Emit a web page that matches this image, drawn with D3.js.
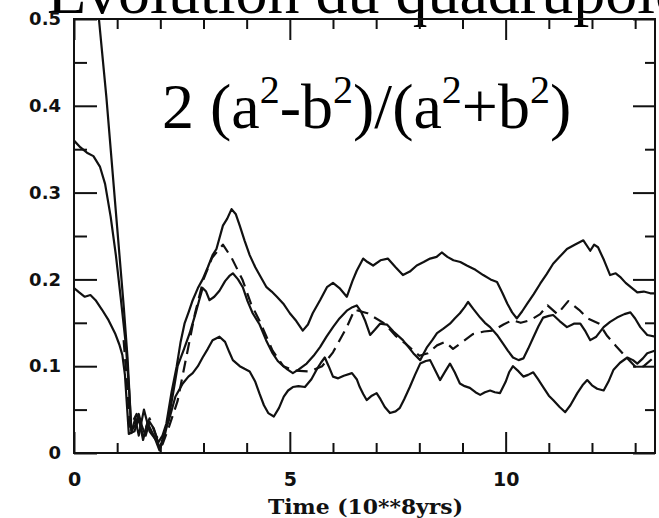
<!DOCTYPE html>
<html>
<head>
<meta charset="utf-8">
<script src="https://cdn.jsdelivr.net/npm/d3@7/dist/d3.min.js"></script>
<style>
  html, body { margin: 0; padding: 0; background: #fff; }
  svg { display: block; }
</style>
</head>
<body>
<svg id="chart" width="659" height="518"></svg>
<script>
// Quadrupole moment 2(a²-b²)/(a²+b²) versus time (units of 10^8 yr)

// Tick values
const xMajorTicks = [0, 5, 10];
const xMinorTicks = [1, 2, 3, 4, 6, 7, 8, 9, 11, 12, 13];
const yMajorTicks = [0, 0.1, 0.2, 0.3, 0.4, 0.5];
const yMinorTicks = [0.05, 0.15, 0.25, 0.35, 0.45];
const yTickLabels = ["0", "0.1", "0.2", "0.3", "0.4", "0.5"];
const xTickLabels = ["0", "5", "10"];

// Run 1: starts far above 0.5, ends as the upper curve
const run1Time = [0.52, 0.75, 1.0, 1.15, 1.24, 1.33, 1.42, 1.5, 1.58, 1.66, 1.75, 1.85, 1.95, 2.05, 2.14, 2.26, 2.38, 2.47, 2.56, 2.66, 2.75, 2.87, 2.98, 3.1, 3.21, 3.3, 3.45, 3.55, 3.65, 3.75, 3.84, 3.95, 4.07, 4.2, 4.3, 4.46, 4.58, 4.7, 4.85, 5.0, 5.15, 5.3, 5.42, 5.53, 5.7, 5.86, 6.0, 6.15, 6.32, 6.45, 6.55, 6.7, 6.8, 6.93, 7.1, 7.27, 7.45, 7.62, 7.78, 7.94, 8.1, 8.25, 8.4, 8.52, 8.65, 8.79, 8.95, 9.1, 9.3, 9.48, 9.65, 9.8, 9.92, 10.04, 10.15, 10.26, 10.38, 10.5, 10.65, 10.8, 10.95, 11.1, 11.25, 11.42, 11.6, 11.8, 11.96, 12.05, 12.14, 12.28, 12.42, 12.55, 12.65, 12.78, 12.9, 13.05, 13.2, 13.35, 13.47];
const run1Value = [0.53, 0.41, 0.26, 0.17, 0.11, 0.026, 0.032, 0.045, 0.03, 0.02, 0.036, 0.028, 0.012, 0.02, 0.034, 0.07, 0.1, 0.128, 0.149, 0.163, 0.176, 0.19, 0.2, 0.214, 0.228, 0.235, 0.262, 0.27, 0.281, 0.275, 0.262, 0.245, 0.228, 0.214, 0.205, 0.191, 0.186, 0.18, 0.172, 0.161, 0.152, 0.141, 0.148, 0.161, 0.176, 0.191, 0.196, 0.19, 0.18, 0.198, 0.21, 0.224, 0.22, 0.216, 0.222, 0.224, 0.214, 0.205, 0.209, 0.216, 0.22, 0.224, 0.226, 0.231, 0.226, 0.222, 0.22, 0.216, 0.211, 0.205, 0.2, 0.197, 0.185, 0.172, 0.162, 0.155, 0.163, 0.172, 0.183, 0.195, 0.206, 0.218, 0.226, 0.235, 0.24, 0.245, 0.233, 0.24, 0.237, 0.222, 0.205, 0.207, 0.203, 0.196, 0.191, 0.185, 0.186, 0.184, 0.184];

// Run 2: starts at 0.36, ends as the middle curve
const run2Time = [0, 0.15, 0.3, 0.45, 0.6, 0.72, 0.85, 0.97, 1.08, 1.2, 1.28, 1.33, 1.42, 1.5, 1.62, 1.75, 1.9, 2.0, 2.1, 2.2, 2.3, 2.4, 2.55, 2.68, 2.8, 2.9, 2.98, 3.06, 3.14, 3.25, 3.37, 3.5, 3.6, 3.68, 3.8, 3.91, 4.02, 4.14, 4.3, 4.45, 4.6, 4.72, 4.85, 4.95, 5.07, 5.2, 5.39, 5.55, 5.7, 5.85, 6.0, 6.15, 6.32, 6.45, 6.55, 6.65, 6.74, 6.86, 6.97, 7.09, 7.25, 7.4, 7.62, 7.75, 7.86, 8.02, 8.18, 8.3, 8.41, 8.55, 8.71, 8.82, 8.94, 9.05, 9.13, 9.25, 9.41, 9.52, 9.64, 9.8, 9.94, 10.05, 10.17, 10.3, 10.41, 10.52, 10.64, 10.76, 10.87, 11.0, 11.1, 11.25, 11.42, 11.58, 11.73, 11.85, 11.96, 12.1, 12.27, 12.42, 12.58, 12.75, 12.89, 13.0, 13.12, 13.28, 13.47];
const run2Value = [0.36, 0.352, 0.346, 0.342, 0.33, 0.31, 0.272, 0.228, 0.18, 0.125, 0.07, 0.023, 0.04, 0.02, 0.05, 0.025, 0.015, 0.006, 0.02, 0.042, 0.07, 0.1, 0.12, 0.138, 0.158, 0.176, 0.19, 0.186, 0.176, 0.18, 0.187, 0.198, 0.204, 0.207, 0.2, 0.191, 0.175, 0.161, 0.148, 0.13, 0.115, 0.106, 0.1, 0.096, 0.092, 0.096, 0.103, 0.112, 0.122, 0.134, 0.145, 0.155, 0.164, 0.168, 0.17, 0.163, 0.153, 0.136, 0.142, 0.149, 0.148, 0.14, 0.13, 0.122, 0.115, 0.107, 0.122, 0.13, 0.138, 0.143, 0.149, 0.155, 0.161, 0.168, 0.174, 0.166, 0.156, 0.15, 0.145, 0.136, 0.126, 0.118, 0.11, 0.107, 0.109, 0.12, 0.133, 0.146, 0.156, 0.158, 0.159, 0.152, 0.145, 0.149, 0.149, 0.14, 0.13, 0.134, 0.145, 0.151, 0.156, 0.16, 0.162, 0.155, 0.145, 0.136, 0.134];

// Run 3: starts at 0.19, ends as the lower curve
const run3Time = [0, 0.12, 0.25, 0.38, 0.5, 0.65, 0.8, 0.95, 1.05, 1.12, 1.18, 1.22, 1.27, 1.4, 1.5, 1.6, 1.7, 1.85, 1.98, 2.1, 2.2, 2.35, 2.52, 2.65, 2.75, 2.87, 2.98, 3.1, 3.21, 3.37, 3.5, 3.6, 3.68, 3.84, 3.95, 4.07, 4.2, 4.3, 4.4, 4.5, 4.63, 4.75, 4.86, 4.96, 5.07, 5.2, 5.35, 5.5, 5.62, 5.72, 5.81, 5.9, 6.0, 6.12, 6.25, 6.44, 6.55, 6.62, 6.7, 6.78, 6.9, 7.01, 7.1, 7.2, 7.32, 7.45, 7.55, 7.65, 7.78, 7.9, 8.02, 8.15, 8.25, 8.37, 8.48, 8.6, 8.71, 8.82, 8.94, 9.05, 9.17, 9.3, 9.41, 9.52, 9.64, 9.75, 9.87, 10.0, 10.08, 10.17, 10.3, 10.41, 10.52, 10.64, 10.75, 10.87, 11.0, 11.1, 11.25, 11.38, 11.5, 11.66, 11.78, 11.89, 12.0, 12.12, 12.27, 12.38, 12.5, 12.65, 12.82, 12.95, 13.05, 13.18, 13.28, 13.47];
const run3Value = [0.19, 0.185, 0.18, 0.182, 0.176, 0.165, 0.153, 0.138, 0.125, 0.113, 0.09, 0.06, 0.022, 0.025, 0.04, 0.015, 0.035, 0.02, 0.003, 0.025, 0.038, 0.065, 0.08, 0.088, 0.092, 0.1, 0.11, 0.12, 0.13, 0.134, 0.128, 0.116, 0.107, 0.1, 0.097, 0.094, 0.082, 0.068, 0.055, 0.046, 0.042, 0.052, 0.065, 0.072, 0.076, 0.077, 0.076, 0.085, 0.096, 0.104, 0.11, 0.1, 0.088, 0.086, 0.089, 0.092, 0.085, 0.076, 0.068, 0.061, 0.066, 0.069, 0.062, 0.053, 0.046, 0.048, 0.052, 0.062, 0.076, 0.09, 0.103, 0.106, 0.107, 0.095, 0.084, 0.094, 0.103, 0.093, 0.08, 0.077, 0.075, 0.07, 0.067, 0.07, 0.072, 0.07, 0.069, 0.082, 0.093, 0.1, 0.094, 0.088, 0.09, 0.093, 0.085, 0.076, 0.066, 0.061, 0.053, 0.047, 0.055, 0.069, 0.078, 0.084, 0.078, 0.074, 0.072, 0.082, 0.096, 0.104, 0.11, 0.107, 0.103, 0.109, 0.115, 0.118];

// Run 4 (dashed)
const run4Time = [1.15, 1.22, 1.3, 1.45, 1.6, 1.75, 1.9, 2.05, 2.2, 2.4, 2.6, 2.8, 3.0, 3.2, 3.45, 3.65, 3.9, 4.1, 4.3, 4.6, 4.85, 5.1, 5.46, 5.75, 6.0, 6.32, 6.5, 6.8, 7.2, 7.45, 7.68, 8.0, 8.2, 8.41, 8.6, 8.78, 9.0, 9.24, 9.5, 9.71, 9.95, 10.15, 10.35, 10.57, 10.8, 10.97, 11.2, 11.45, 11.7, 11.9, 12.17, 12.35, 12.56, 12.8, 13.03, 13.2, 13.43];
const run4Value = [0.13, 0.085, 0.03, 0.045, 0.02, 0.04, 0.02, 0.01, 0.03, 0.06, 0.11, 0.16, 0.2, 0.225, 0.24, 0.225, 0.2, 0.172, 0.152, 0.118, 0.1, 0.095, 0.094, 0.1, 0.116, 0.145, 0.165, 0.161, 0.149, 0.135, 0.126, 0.112, 0.115, 0.124, 0.128, 0.12, 0.128, 0.137, 0.14, 0.141, 0.148, 0.153, 0.15, 0.153, 0.16, 0.17, 0.16, 0.175, 0.165, 0.155, 0.149, 0.135, 0.123, 0.11, 0.098, 0.1, 0.11];

const runs = [
  { t: run1Time, v: run1Value, dashed: false },
  { t: run2Time, v: run2Value, dashed: false },
  { t: run3Time, v: run3Value, dashed: false },
  { t: run4Time, v: run4Value, dashed: true }
];

const svg = d3.select("#chart");
const plot = { left: 74, right: 655, top: 19, bottom: 453 };

const x = d3.scaleLinear().domain([0, 13.46]).range([plot.left, plot.right]);
const y = d3.scaleLinear().domain([0, 0.5]).range([plot.bottom, plot.top]);

// Title and formula
svg.append("text")
  .attr("x", 47).attr("y", 13)
  .attr("font-family", "'Liberation Serif', 'Times New Roman', serif")
  .attr("font-size", 64)
  .attr("fill", "#000")
  .text("Evolution du quadrupole");

const formula = svg.append("text")
  .attr("x", 162).attr("y", 128)
  .attr("font-family", "'Liberation Serif', 'Times New Roman', serif")
  .attr("font-size", 64)
  .attr("fill", "#000");
const parts = [
  ["2 (a", false], ["2", true], ["-b", false], ["2", true],
  [")/(a", false], ["2", true], ["+b", false], ["2", true], [")", false]
];
const supRise = 25;
parts.forEach(([s, sup], i) => {
  formula.append("tspan")
    .attr("font-size", sup ? 40 : 64)
    .attr("dy", sup ? -supRise : (i === 0 ? 0 : supRise))
    .text(s);
});

// Clip region for the curves
svg.append("clipPath").attr("id", "plotClip")
  .append("rect")
  .attr("x", plot.left).attr("y", plot.top)
  .attr("width", plot.right - plot.left).attr("height", plot.bottom - plot.top);

const line = d3.line()
  .x(d => x(d[0]))
  .y(d => y(d[1]));

svg.append("g")
  .attr("clip-path", "url(#plotClip)")
  .selectAll("path")
  .data(runs)
  .join("path")
  .attr("d", r => line(r.t.map((t, i) => [t, r.v[i]])))
  .attr("fill", "none")
  .attr("stroke", "#111")
  .attr("stroke-width", 2.2)
  .attr("stroke-linejoin", "round")
  .attr("stroke-dasharray", r => r.dashed ? "12,7" : null);

// Axes with inward ticks on all four sides
const tickStyle = g => {
  g.select(".domain").remove();
  g.selectAll(".tick line").attr("stroke", "#111").attr("stroke-width", 2);
};
const labelFont = "'DejaVu Sans', Verdana, sans-serif";

svg.append("g")
  .attr("transform", `translate(0,${plot.bottom})`)
  .call(d3.axisBottom(x).tickValues(xMajorTicks).tickSize(-21).tickPadding(20)
    .tickFormat((d, i) => xTickLabels[i]))
  .call(tickStyle)
  .call(g => g.selectAll("text").attr("font-family", labelFont)
    .attr("font-weight", "bold").attr("font-size", 19).attr("fill", "#111"));
svg.append("g")
  .attr("transform", `translate(0,${plot.bottom})`)
  .call(d3.axisBottom(x).tickValues(xMinorTicks).tickSize(-10).tickFormat(""))
  .call(tickStyle);
svg.append("g")
  .attr("transform", `translate(0,${plot.top})`)
  .call(d3.axisTop(x).tickValues(xMajorTicks).tickSize(-21).tickFormat(""))
  .call(tickStyle);
svg.append("g")
  .attr("transform", `translate(0,${plot.top})`)
  .call(d3.axisTop(x).tickValues(xMinorTicks).tickSize(-10).tickFormat(""))
  .call(tickStyle);

svg.append("g")
  .attr("transform", `translate(${plot.left},0)`)
  .call(d3.axisLeft(y).tickValues(yMajorTicks).tickSize(-23).tickPadding(13)
    .tickFormat((d, i) => yTickLabels[i]))
  .call(tickStyle)
  .call(g => g.selectAll("text").attr("font-family", labelFont)
    .attr("font-weight", "bold").attr("font-size", 18).attr("fill", "#111"));
svg.append("g")
  .attr("transform", `translate(${plot.left},0)`)
  .call(d3.axisLeft(y).tickValues(yMinorTicks).tickSize(-13).tickFormat(""))
  .call(tickStyle);
svg.append("g")
  .attr("transform", `translate(${plot.right},0)`)
  .call(d3.axisRight(y).tickValues(yMajorTicks).tickSize(-22).tickFormat(""))
  .call(tickStyle);
svg.append("g")
  .attr("transform", `translate(${plot.right},0)`)
  .call(d3.axisRight(y).tickValues(yMinorTicks).tickSize(-10).tickFormat(""))
  .call(tickStyle);

// Frame
svg.append("rect")
  .attr("x", plot.left).attr("y", plot.top)
  .attr("width", plot.right - plot.left).attr("height", plot.bottom - plot.top)
  .attr("fill", "none").attr("stroke", "#111").attr("stroke-width", 2);

// Axis title
svg.append("text")
  .attr("x", 268).attr("y", 514)
  .attr("textLength", 195).attr("lengthAdjust", "spacingAndGlyphs")
  .attr("font-family", "'DejaVu Serif', 'Liberation Serif', serif")
  .attr("font-weight", "bold").attr("font-size", 20).attr("fill", "#111")
  .text("Time (10**8yrs)");
</script>
</body>
</html>
